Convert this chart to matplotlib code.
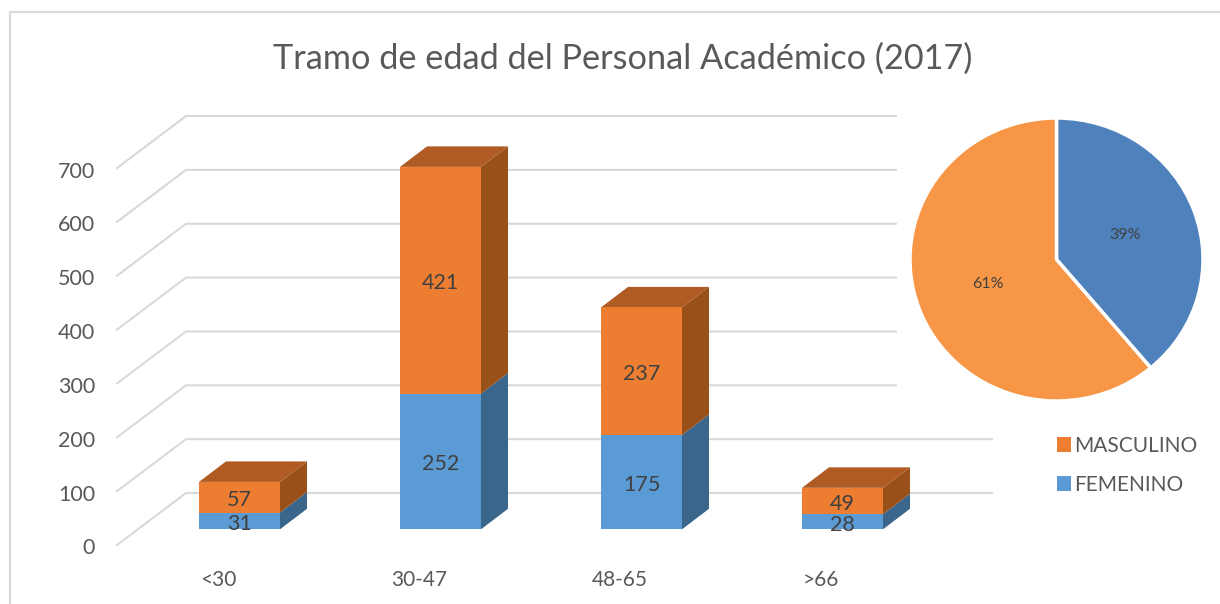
import matplotlib
matplotlib.use("Agg")
import matplotlib.pyplot as plt
from matplotlib.patches import Polygon, Rectangle

plt.rcParams['font.family'] = ['Lato', 'DejaVu Sans']

title = "Tramo de edad del Personal Académico (2017)"
categories = ["<30", "30-47", "48-65", ">66"]
femenino = [31, 252, 175, 28]
masculino = [57, 421, 237, 49]
y_ticks = [0, 100, 200, 300, 400, 500, 600, 700]

W, H = 1220, 604
TEXT = "#595959"
LABEL = "#404040"
GRID = "#D9D9D9"

# colours: front, top, side
BLUE = ("#5B9BD5", "#3A668C")
ORANGE = ("#ED7D31", "#B05B23", "#9A5119")

# pixel layout of the main axes (whole figure)
X0, PX_CAT = 239.5, 201.0
Y0, PX_VAL = 529.3, 0.5385
DEPTH_X = 27 / PX_CAT
DEPTH_Y = 20.5 / PX_VAL
BAR_W = 81 / PX_CAT
TEXT_DROP = 3.5 / PX_VAL  # Lato sits a bit high when centred


def cat_x(px):
    return (px - X0) / PX_CAT


def val_y(px):
    return (Y0 - px) / PX_VAL


fig = plt.figure(figsize=(W / 100, H / 100), dpi=100, facecolor="white")
ax = fig.add_axes([0, 0, 1, 1])
ax.set_xlim(cat_x(0), cat_x(W))
ax.set_ylim(val_y(H), val_y(0))
ax.axis("off")

# chart frame, runs off the picture at right and bottom
ax.plot([cat_x(10), cat_x(10), cat_x(W + 5)], [val_y(H + 5), val_y(12), val_y(12)],
        color=GRID, lw=1.6, zorder=1)

# floor and back wall lines
front_off = val_y(545)
back_off = val_y(493)
for v in y_ticks:
    ax.plot([cat_x(117), cat_x(186), cat_x(992)],
            [v + front_off, v + back_off, v + back_off],
            color=GRID, lw=1.5, zorder=1, solid_joinstyle="miter")
    ax.text(cat_x(95), v + front_off - TEXT_DROP, str(v), ha="right", va="center",
            fontsize=15.5, color=TEXT)

x_pos = list(range(len(categories)))
b1 = ax.bar(x_pos, femenino, BAR_W, color=BLUE[0], zorder=3, label="FEMENINO")
b2 = ax.bar(x_pos, masculino, BAR_W, bottom=femenino, color=ORANGE[0], zorder=3, label="MASCULINO")

for i, (f, m) in enumerate(zip(femenino, masculino)):
    r = i + BAR_W / 2
    t = f + m
    ax.add_patch(Polygon([(r, 0), (r + DEPTH_X, DEPTH_Y), (r + DEPTH_X, f + DEPTH_Y), (r, f)],
                         facecolor=BLUE[1], edgecolor="none", zorder=2))
    ax.add_patch(Polygon([(r, f), (r + DEPTH_X, f + DEPTH_Y), (r + DEPTH_X, t + DEPTH_Y), (r, t)],
                         facecolor=ORANGE[2], edgecolor="none", zorder=2))
    ax.add_patch(Polygon([(r - BAR_W, t), (r, t), (r + DEPTH_X, t + DEPTH_Y), (r - BAR_W + DEPTH_X, t + DEPTH_Y)],
                         facecolor=ORANGE[1], edgecolor="none", zorder=2))
    ax.text(i, f / 2 - TEXT_DROP * 0.8, str(f), ha="center", va="center", fontsize=15.5, color=LABEL, zorder=5)
    ax.text(i, f + m / 2 - TEXT_DROP * 0.8, str(m), ha="center", va="center", fontsize=15.5, color=LABEL, zorder=5)
    ax.text(i + cat_x(218), val_y(577) - TEXT_DROP, categories[i], ha="center", va="center",
            fontsize=15, color=TEXT)

ax.text(cat_x(623), val_y(59), title, ha="center", va="center", fontsize=24.7, color=TEXT)

# inset pie sits on a white box that hides the grid lines
ax.add_patch(Rectangle((cat_x(897), val_y(405)), cat_x(W) - cat_x(897), val_y(114) - val_y(405),
                       facecolor="white", edgecolor="none", zorder=4))

leg = ax.legend(handles=[b2, b1], loc="upper left", bbox_to_anchor=(1051 / W, 1 - 429.5 / H),
                frameon=False, fontsize=15, labelcolor=TEXT, handlelength=0.68, handleheight=0.68,
                handletextpad=0.15, labelspacing=0.92, borderpad=0.3, borderaxespad=0)
leg.set_zorder(6)

pie_ax = fig.add_axes([910 / W, 1 - 401 / H, 293 / W, 283 / H])
pie_ax.pie([sum(femenino), sum(masculino)], colors=["#4F81BD", "#F79646"], startangle=90,
           counterclock=False, autopct="%.0f%%", pctdistance=0.5,
           wedgeprops={"edgecolor": "white", "linewidth": 2.5},
           textprops={"fontsize": 11.5, "color": LABEL})
pie_ax.set_aspect("auto")
pie_ax.set_xlim(-1, 1)
pie_ax.set_ylim(-1, 1)

fig.savefig("out.png", dpi=100)
